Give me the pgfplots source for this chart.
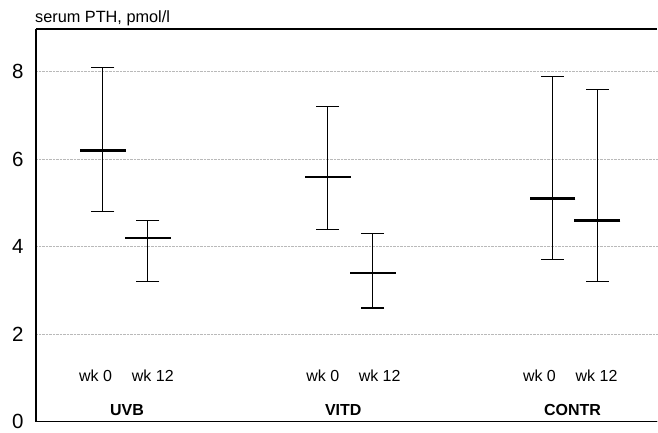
\documentclass[border=0pt]{standalone}
\usepackage{pgfplots}
\pgfplotsset{compat=1.18}
\usepackage{pgfplotstable}
\usepackage{fontspec}
\setmainfont{Liberation Sans}
\pgfplotstableread{
x mean hi lo
1 6.2 8.1 4.8
1.2 4.2 4.6 3.2
2 5.6 7.2 4.4
2.2 3.4 4.3 2.6
3 5.1 7.9 3.7
3.2 4.6 7.6 3.2
}\pth
\begin{document}
\begin{tikzpicture}
\begin{axis}[
 scale only axis, width=622pt, height=393pt,
 xmin=0.7022, xmax=3.4667, ymin=0, ymax=8.98,
 axis x line=box, axis y line=left, axis line style={-, line width=1.2pt},
 xtick=\empty, ytick={0,2,4,6,8},
 major tick length=0pt,
 ymajorgrids, grid style={densely dotted, gray!55, line width=0.8pt},
 yticklabel style={font=\fontsize{20.5}{22}\selectfont, xshift=-9pt},
 /pgf/number format/assume math mode=true,
 clip=false,
]
% vertical ranges
\addplot[draw=none, no markers,
  error bars/.cd, y dir=both, y explicit, error mark=none,
  error bar style={draw=black, line width=1pt}]
  table[x=x, y=mean, y error plus expr=\thisrow{hi}-\thisrow{mean}, y error minus expr=\thisrow{mean}-\thisrow{lo}]{\pth};
% caps
\addplot[black, only marks, mark=-, mark size=11.5pt, mark options={line width=1.3pt}] table[x=x, y=hi]{\pth};
\addplot[black, only marks, mark=-, mark size=11.5pt, mark options={line width=1.3pt}] table[x=x, y=lo]{\pth};
% means
\addplot[black, only marks, mark=-, mark size=23pt, mark options={line width=2.3pt}] table[x=x, y=mean]{\pth};
\node[anchor=base west, inner sep=0pt, font=\fontsize{16.3}{18}\selectfont] at ([yshift=6pt,xshift=-1pt]rel axis cs:0,1) {serum PTH, pmol/l};
\begin{scope}[every node/.style={anchor=base, inner sep=0pt, font=\fontsize{16}{18}\selectfont}]
\node at (axis cs:0.967,0.92) {wk 0};
\node at (axis cs:1.222,0.92) {wk 12};
\node at (axis cs:1.978,0.92) {wk 0};
\node at (axis cs:2.231,0.92) {wk 12};
\node at (axis cs:2.942,0.92) {wk 0};
\node at (axis cs:3.196,0.92) {wk 12};
\end{scope}
\begin{scope}[every node/.style={anchor=base, inner sep=0pt, font=\fontsize{16}{18}\selectfont\bfseries}]
\node at (axis cs:1.107,0.144) {UVB};
\node at (axis cs:2.069,0.144) {VITD};
\node at (axis cs:3.089,0.144) {CONTR};
\end{scope}
\coordinate (sw) at (rel axis cs:0,0);
\coordinate (ne) at (rel axis cs:1,1);
\end{axis}
\path ([xshift=-36pt,yshift=-10pt]sw) rectangle ([yshift=29pt]ne);
\end{tikzpicture}
\end{document}
